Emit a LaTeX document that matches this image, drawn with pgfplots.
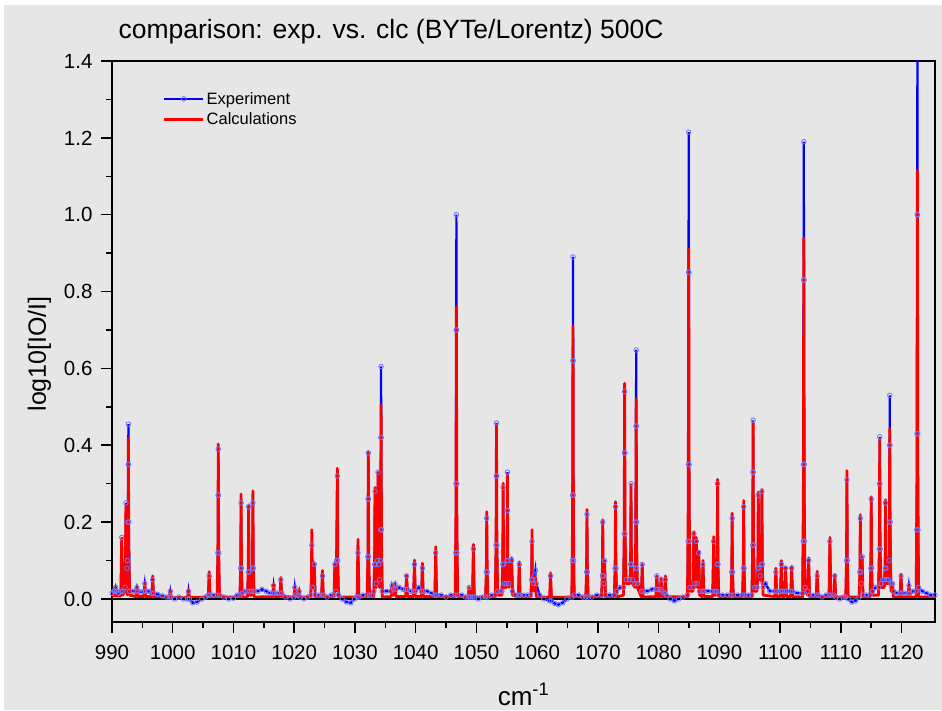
\documentclass[border=0pt]{standalone}
\usepackage{fontspec}
\setmainfont{Liberation Sans}
\usepackage{pgfplots}
\pgfplotsset{compat=1.18}
\definecolor{bggray}{RGB}{230,230,230}
\definecolor{expblue}{RGB}{0,0,255}
\definecolor{circblue}{RGB}{115,115,255}
\definecolor{clcred}{RGB}{250,0,0}
\begin{document}
\begin{tikzpicture}
\path[use as bounding box, fill=white] (0,0) rectangle (942pt,710pt);
\fill[bggray] (4pt,0) rectangle (942pt,705pt);
\begin{axis}[
  at={(112pt,88pt)}, anchor=south west,
  width=823pt, height=561pt, scale only axis,
  xmin=990, xmax=1125.5, ymin=-0.06, ymax=1.4,
  xtick={990,1000,...,1120}, ytick={0,0.2,...,1.4},
  minor x tick num=1, minor y tick num=1,
  tick pos=left, tick align=outside,
  major tick length=11pt, minor tick length=6pt,
  every tick/.style={black, line width=1.5pt},
  axis line style={black, line width=1.8pt},
  /pgf/number format/assume math mode=true,
  tick label style={font=\fontsize{20.5}{24}\selectfont, black},
  yticklabel style={/pgf/number format/.cd, fixed, fixed zerofill, precision=1},
  xticklabel style={/pgf/number format/.cd, set thousands separator={}},
  xticklabel shift=9pt, yticklabel shift=5pt,
  xlabel={cm\textsuperscript{-1}},
  ylabel={log10[IO/I]},
  xlabel style={at={(axis description cs:0.5,0)}, anchor=base, yshift=-83pt, font=\fontsize{26}{30}\selectfont},
  ylabel style={at={(axis description cs:0,0.478)}, anchor=base, yshift=66pt, font=\fontsize{25}{30}\selectfont},
  title={comparison: exp. vs. clc (BYTe/Lorentz) 500C},
  title style={at={(axis description cs:0,1)}, anchor=base west, xshift=3pt, yshift=16pt, font=\fontsize{26.5}{30}\selectfont},
  legend cell align=left,
  legend style={draw=none, fill=none, at={(axis description cs:0.058,0.952)}, anchor=north west, font=\fontsize{16.5}{19}\selectfont, row sep=3pt},
  legend image code/.code={\draw[mark repeat=2,mark phase=2,#1] plot coordinates {(0pt,0pt) (19.5pt,0pt) (39pt,0pt)};},
]
\addplot[expblue, line width=2.2pt, mark=o, mark size=2.3pt, mark options={solid, draw=circblue, line width=0.8pt}] coordinates {
(990,0.015)(990.3,0.02)(990.45,0.02)(990.6,0.03)(990.75,0.02)(991.1,0.015)
(991.45,0.02)(991.6,0.16)(991.75,0.02)(992.15,0.03)(992.3,0.25)(992.45,0.08)
(992.55,0.1)(992.63,0.2)(992.67,0.35)(992.7,0.455)(992.73,0.35)(992.77,0.2)(992.9,0.02)
(993.5,0.02)(993.95,0.02)(994.1,0.03)(994.25,0.02)(994.8,0.018)
(995.25,0.02)(995.4,0.04)(995.55,0.02)(996.0,0.02)
(996.55,0.015)(996.7,0.05)(996.85,0.015)(997.5,0.012)(998.3,0.008)(999.0,0.005)
(999.45,0.005)(999.6,0.02)(999.75,0.005)(1000.3,0.0)(1001.0,0.005)(1001.8,0.0)
(1002.45,0.0)(1002.6,0.02)(1002.75,0.0)(1003.3,-0.01)(1004.0,-0.008)(1004.8,0.0)(1005.4,0.005)
(1005.85,0.01)(1006.0,0.06)(1006.15,0.01)(1006.7,0.01)
(1007.3,0.01)(1007.43,0.12)(1007.47,0.27)(1007.5,0.39)(1007.53,0.27)(1007.57,0.12)(1007.7,0.01)
(1008.4,0.005)(1009.2,0.0)(1010.0,0.002)(1010.6,0.01)
(1011.05,0.01)(1011.18,0.08)(1011.25,0.25)(1011.32,0.08)(1011.45,0.015)(1011.9,0.02)
(1012.3,0.02)(1012.43,0.07)(1012.5,0.24)(1012.57,0.07)(1012.7,0.02)
(1013.0,0.02)(1013.13,0.08)(1013.2,0.25)(1013.27,0.08)(1013.4,0.02)
(1014.0,0.02)(1014.7,0.025)(1015.4,0.02)(1016.0,0.015)
(1016.45,0.015)(1016.6,0.035)(1016.75,0.015)(1017.2,0.015)
(1017.65,0.015)(1017.8,0.05)(1017.95,0.015)(1018.5,0.005)(1019.3,0.0)
(1019.95,0.005)(1020.1,0.03)(1020.25,0.01)(1020.65,0.01)(1020.8,0.02)(1020.95,0.005)
(1021.6,0.0)(1022.2,0.005)(1022.75,0.01)(1022.9,0.14)(1023.05,0.03)(1023.3,0.09)(1023.45,0.01)
(1024.0,0.01)(1024.5,0.01)(1024.65,0.06)(1024.8,0.01)(1025.4,0.005)(1026.1,0.01)
(1026.55,0.01)(1026.7,0.09)(1026.85,0.02)(1026.97,0.1)(1027.1,0.32)(1027.17,0.1)(1027.3,0.01)
(1027.9,0.0)(1028.6,-0.008)(1029.3,-0.01)(1029.9,0.0)
(1030.35,0.005)(1030.5,0.12)(1030.65,0.005)(1031.3,0.01)
(1032.0,0.01)(1032.13,0.11)(1032.17,0.26)(1032.2,0.38)(1032.23,0.26)(1032.27,0.11)(1032.4,0.01)(1032.8,0.01)
(1033.1,0.02)(1033.23,0.09)(1033.3,0.28)(1033.37,0.09)(1033.5,0.04)
(1033.73,0.1)(1033.8,0.33)(1033.9,0.09)(1034.05,0.05)
(1034.18,0.1)(1034.23,0.18)(1034.27,0.42)(1034.3,0.605)(1034.33,0.42)(1034.37,0.18)(1034.5,0.02)
(1035.2,0.02)(1035.95,0.02)(1036.1,0.035)(1036.3,0.025)(1036.6,0.038)(1036.75,0.025)
(1037.3,0.03)(1037.9,0.025)(1038.35,0.025)(1038.5,0.06)(1038.65,0.025)(1039.2,0.02)
(1039.65,0.02)(1039.8,0.09)(1039.95,0.02)(1040.5,0.03)
(1040.95,0.02)(1041.1,0.08)(1041.25,0.02)(1041.9,0.02)(1042.6,0.015)
(1043.15,0.01)(1043.3,0.12)(1043.45,0.01)(1044.2,0.01)(1045.0,0.005)(1045.8,0.01)
(1046.5,0.01)(1046.6,0.12)(1046.63,0.3)(1046.67,0.7)(1046.7,1.0)(1046.73,0.7)(1046.77,0.3)(1046.8,0.12)(1046.9,0.01)
(1047.6,0.01)(1048.2,0.005)(1048.65,0.005)(1048.8,0.03)(1048.95,0.005)
(1049.35,0.005)(1049.5,0.13)(1049.65,0.005)(1050.3,0.0)(1051.0,0.005)
(1051.5,0.005)(1051.63,0.07)(1051.7,0.21)(1051.77,0.07)(1051.9,0.005)(1052.5,0.01)
(1053.1,0.01)(1053.23,0.14)(1053.27,0.32)(1053.3,0.458)(1053.33,0.32)(1053.37,0.14)(1053.5,0.02)(1053.9,0.02)
(1054.2,0.02)(1054.33,0.09)(1054.4,0.29)(1054.47,0.09)(1054.6,0.04)
(1054.9,0.04)(1055.03,0.1)(1055.07,0.23)(1055.1,0.33)(1055.13,0.23)(1055.17,0.1)(1055.35,0.04)
(1055.8,0.1)(1055.95,0.02)(1056.4,0.01)(1056.9,0.01)(1057.05,0.09)(1057.2,0.01)(1057.8,0.01)(1058.4,0.01)
(1058.95,0.01)(1059.08,0.05)(1059.15,0.15)(1059.22,0.05)(1059.4,0.04)(1059.55,0.06)(1059.7,0.075)(1059.85,0.04)
(1060.4,0.01)(1061.1,0.0)(1062.05,-0.005)(1062.2,0.06)(1062.35,-0.005)
(1062.9,-0.012)(1063.5,-0.015)(1064.2,-0.01)(1064.9,0.0)
(1065.7,0.005)(1065.8,0.1)(1065.83,0.27)(1065.87,0.62)(1065.9,0.89)(1065.93,0.62)(1065.97,0.27)(1066.0,0.1)(1066.1,0.01)
(1066.8,0.01)(1067.5,0.005)(1068.0,0.005)(1068.13,0.07)(1068.2,0.22)(1068.27,0.07)(1068.4,0.005)
(1069.0,0.005)(1069.8,0.01)(1070.6,0.01)(1070.73,0.06)(1070.8,0.2)(1070.87,0.06)(1070.97,0.04)(1071.1,0.1)(1071.25,0.01)
(1071.9,0.01)(1072.7,0.01)(1072.83,0.08)(1072.9,0.24)(1072.97,0.08)(1073.1,0.02)(1073.6,0.03)
(1074.2,0.03)(1074.33,0.17)(1074.37,0.38)(1074.4,0.54)(1074.43,0.38)(1074.47,0.17)(1074.65,0.05)
(1075.25,0.05)(1075.38,0.09)(1075.45,0.3)(1075.52,0.09)(1075.7,0.05)
(1076.1,0.04)(1076.2,0.08)(1076.23,0.2)(1076.27,0.45)(1076.3,0.648)(1076.33,0.45)(1076.37,0.2)(1076.4,0.08)(1076.5,0.04)
(1077.15,0.02)(1077.3,0.09)(1077.45,0.02)(1078.1,0.02)(1078.9,0.025)
(1079.55,0.025)(1079.7,0.06)(1079.85,0.025)(1080.25,0.025)(1080.4,0.05)(1080.55,0.02)
(1080.95,0.015)(1081.1,0.05)(1081.25,0.01)(1081.9,0.0)(1082.6,-0.005)(1083.3,0.0)(1084.0,0.005)
(1084.75,0.01)(1084.85,0.15)(1084.88,0.35)(1084.92,0.85)(1084.95,1.215)(1084.98,0.85)(1085.02,0.35)(1085.05,0.15)(1085.15,0.03)
(1085.65,0.03)(1085.8,0.17)(1085.95,0.04)(1086.2,0.15)(1086.35,0.04)(1086.6,0.12)(1086.75,0.02)
(1087.15,0.02)(1087.3,0.09)(1087.45,0.02)(1088.1,0.02)
(1088.9,0.02)(1089.06,0.15)(1089.25,0.02)(1089.5,0.02)(1089.63,0.09)(1089.7,0.3)(1089.77,0.09)(1089.9,0.01)
(1090.5,0.01)(1091.3,0.01)(1091.9,0.01)(1092.03,0.07)(1092.1,0.21)(1092.17,0.07)(1092.3,0.01)(1093.0,0.01)
(1093.8,0.01)(1093.93,0.08)(1094.0,0.24)(1094.07,0.08)(1094.2,0.01)(1094.8,0.01)
(1095.35,0.01)(1095.48,0.14)(1095.52,0.33)(1095.55,0.465)(1095.58,0.33)(1095.62,0.14)(1095.8,0.03)
(1096.2,0.03)(1096.33,0.08)(1096.4,0.27)(1096.5,0.08)(1096.7,0.06)(1096.93,0.09)(1097.0,0.28)(1097.07,0.09)(1097.2,0.03)
(1097.6,0.04)(1098.3,0.02)(1099.15,0.02)(1099.3,0.07)(1099.45,0.02)
(1100.05,0.02)(1100.2,0.09)(1100.35,0.02)(1100.75,0.02)(1100.9,0.08)(1101.05,0.02)
(1101.75,0.02)(1101.9,0.08)(1102.05,0.02)(1102.8,0.015)
(1103.7,0.015)(1103.8,0.15)(1103.83,0.35)(1103.87,0.83)(1103.9,1.19)(1103.93,0.83)(1103.97,0.35)(1104.0,0.15)(1104.1,0.03)
(1104.55,0.02)(1104.7,0.1)(1104.85,0.01)(1105.4,0.01)(1105.95,0.01)(1106.1,0.06)(1106.25,0.01)
(1106.9,0.005)(1107.6,0.01)(1108.05,0.01)(1108.2,0.15)(1108.35,0.01)(1108.85,0.01)(1109.0,0.06)(1109.15,0.005)
(1109.8,0.0)(1110.4,0.005)(1110.8,0.005)(1110.93,0.1)(1111.0,0.31)(1111.07,0.1)(1111.2,0.0)
(1111.8,-0.008)(1112.4,-0.005)(1113.0,0.005)(1113.13,0.07)(1113.2,0.21)(1113.27,0.07)(1113.37,0.04)(1113.5,0.11)(1113.65,0.01)
(1114.2,0.01)(1114.8,0.01)(1114.93,0.08)(1115.0,0.26)(1115.07,0.08)(1115.2,0.02)(1115.7,0.03)
(1116.2,0.03)(1116.33,0.13)(1116.37,0.3)(1116.4,0.422)(1116.43,0.3)(1116.47,0.13)(1116.6,0.04)(1116.9,0.05)
(1117.15,0.05)(1117.28,0.08)(1117.35,0.25)(1117.42,0.08)(1117.55,0.05)
(1117.85,0.05)(1117.95,0.1)(1117.98,0.2)(1118.02,0.4)(1118.05,0.53)(1118.08,0.4)(1118.12,0.2)(1118.25,0.04)
(1118.5,0.04)(1118.65,0.02)(1119.2,0.015)(1119.75,0.015)(1119.9,0.06)(1120.05,0.015)(1120.5,0.015)
(1121.05,0.015)(1121.2,0.035)(1121.35,0.015)(1121.9,0.02)
(1122.4,0.02)(1122.5,0.18)(1122.53,0.43)(1122.57,1.0)(1122.6,1.45)(1122.63,1.0)(1122.67,0.43)(1122.7,0.18)(1122.8,0.03)
(1123.4,0.02)(1124.1,0.015)(1124.8,0.01)(1125.5,0.01)
};
\addlegendentry{Experiment}
\addplot[clcred, line width=2.8pt, line join=round] coordinates {
(990,0.01)(990.45,0.008)(990.6,0.028)(990.75,0.008)
(991.45,0.008)(991.6,0.158)(991.75,0.01)(992.15,0.02)(992.3,0.245)(992.45,0.06)
(992.5,0.01)(992.63,0.125)(992.7,0.418)(992.77,0.125)(992.9,0.01)
(993.95,0.006)(994.1,0.03)(994.25,0.006)(995.25,0.006)(995.4,0.04)(995.55,0.006)
(996.55,0.006)(996.7,0.06)(996.85,0.006)(999.45,0.004)(999.6,0.02)(999.75,0.004)
(1002.45,0.004)(1002.6,0.025)(1002.75,0.004)(1005.85,0.005)(1006.0,0.071)(1006.15,0.005)
(1007.3,0.005)(1007.43,0.12)(1007.5,0.403)(1007.57,0.12)(1007.7,0.005)
(1011.05,0.005)(1011.18,0.08)(1011.25,0.273)(1011.32,0.08)(1011.45,0.005)
(1012.3,0.005)(1012.43,0.07)(1012.5,0.245)(1012.57,0.07)(1012.7,0.01)
(1013.0,0.01)(1013.13,0.08)(1013.2,0.281)(1013.27,0.08)(1013.4,0.005)
(1016.45,0.006)(1016.6,0.038)(1016.75,0.006)(1017.65,0.006)(1017.8,0.056)(1017.95,0.006)
(1019.95,0.005)(1020.1,0.03)(1020.25,0.005)(1020.65,0.005)(1020.8,0.025)(1020.95,0.005)
(1022.7,0.005)(1022.83,0.05)(1022.9,0.18)(1022.97,0.06)(1023.1,0.03)(1023.3,0.094)(1023.45,0.005)
(1024.5,0.005)(1024.65,0.074)(1024.8,0.005)
(1026.55,0.005)(1026.7,0.094)(1026.85,0.02)(1026.97,0.1)(1027.1,0.34)(1027.17,0.1)(1027.3,0.005)
(1030.35,0.005)(1030.5,0.155)(1030.65,0.005)
(1032.0,0.005)(1032.13,0.11)(1032.2,0.383)(1032.27,0.11)(1032.4,0.005)
(1033.1,0.005)(1033.23,0.09)(1033.3,0.29)(1033.37,0.09)(1033.5,0.03)
(1033.73,0.1)(1033.8,0.33)(1033.9,0.08)(1034.05,0.03)
(1034.23,0.15)(1034.3,0.505)(1034.37,0.15)(1034.5,0.005)
(1035.95,0.006)(1036.1,0.035)(1036.3,0.01)(1036.6,0.038)(1036.75,0.006)
(1038.35,0.006)(1038.5,0.062)(1038.65,0.006)(1039.65,0.006)(1039.8,0.101)(1039.95,0.006)
(1040.95,0.006)(1041.1,0.093)(1041.25,0.006)(1043.15,0.006)(1043.3,0.136)(1043.45,0.006)
(1046.5,0.006)(1046.63,0.23)(1046.7,0.76)(1046.77,0.23)(1046.9,0.006)
(1048.65,0.005)(1048.8,0.03)(1048.95,0.005)(1049.35,0.005)(1049.5,0.142)(1049.65,0.005)
(1051.5,0.005)(1051.63,0.07)(1051.7,0.227)(1051.77,0.07)(1051.9,0.005)
(1053.1,0.005)(1053.23,0.14)(1053.3,0.453)(1053.37,0.14)(1053.5,0.01)
(1054.2,0.01)(1054.33,0.09)(1054.4,0.301)(1054.47,0.09)(1054.6,0.03)
(1054.9,0.03)(1055.03,0.1)(1055.1,0.323)(1055.17,0.1)(1055.35,0.03)(1055.8,0.107)(1055.95,0.01)
(1056.9,0.006)(1057.05,0.097)(1057.2,0.006)
(1058.95,0.006)(1059.08,0.05)(1059.15,0.18)(1059.22,0.05)(1059.4,0.02)(1059.7,0.06)(1059.85,0.006)
(1062.05,0.004)(1062.2,0.068)(1062.35,0.004)
(1065.7,0.005)(1065.83,0.21)(1065.9,0.71)(1065.97,0.21)(1066.1,0.005)
(1068.0,0.005)(1068.13,0.07)(1068.2,0.233)(1068.27,0.07)(1068.4,0.005)
(1070.6,0.005)(1070.73,0.06)(1070.8,0.206)(1070.87,0.06)(1070.97,0.04)(1071.1,0.1)(1071.25,0.005)
(1072.7,0.005)(1072.83,0.08)(1072.9,0.253)(1072.97,0.08)(1073.1,0.005)
(1074.2,0.01)(1074.33,0.17)(1074.4,0.561)(1074.47,0.17)(1074.65,0.04)
(1075.25,0.04)(1075.38,0.09)(1075.45,0.297)(1075.52,0.09)(1075.7,0.04)
(1076.1,0.03)(1076.23,0.16)(1076.3,0.52)(1076.37,0.16)(1076.5,0.03)
(1077.15,0.005)(1077.3,0.09)(1077.45,0.005)
(1079.55,0.006)(1079.7,0.06)(1079.85,0.006)(1080.25,0.006)(1080.4,0.055)(1080.55,0.006)
(1080.95,0.006)(1081.1,0.06)(1081.25,0.006)
(1084.75,0.005)(1084.88,0.27)(1084.95,0.91)(1085.02,0.27)(1085.15,0.02)
(1085.65,0.02)(1085.8,0.175)(1085.95,0.03)(1086.2,0.16)(1086.35,0.03)(1086.6,0.125)(1086.75,0.01)
(1087.15,0.006)(1087.3,0.1)(1087.45,0.006)
(1088.9,0.006)(1089.06,0.162)(1089.25,0.01)(1089.5,0.01)(1089.63,0.09)(1089.7,0.311)(1089.77,0.09)(1089.9,0.006)
(1091.9,0.005)(1092.03,0.07)(1092.1,0.223)(1092.17,0.07)(1092.3,0.005)
(1093.8,0.005)(1093.93,0.08)(1094.0,0.256)(1094.07,0.08)(1094.2,0.005)
(1095.35,0.005)(1095.48,0.14)(1095.55,0.461)(1095.62,0.14)(1095.8,0.02)
(1096.2,0.02)(1096.33,0.08)(1096.4,0.278)(1096.5,0.07)(1096.7,0.05)(1096.93,0.09)(1097.0,0.285)(1097.07,0.09)(1097.2,0.01)
(1099.15,0.006)(1099.3,0.08)(1099.45,0.006)(1100.05,0.006)(1100.2,0.1)(1100.35,0.006)
(1100.75,0.006)(1100.9,0.083)(1101.05,0.006)(1101.75,0.006)(1101.9,0.085)(1102.05,0.006)
(1103.7,0.005)(1103.83,0.28)(1103.9,0.94)(1103.97,0.28)(1104.1,0.02)
(1104.55,0.01)(1104.7,0.107)(1104.85,0.006)(1105.95,0.005)(1106.1,0.072)(1106.25,0.005)
(1108.05,0.005)(1108.2,0.16)(1108.35,0.005)(1108.85,0.005)(1109.0,0.063)(1109.15,0.005)
(1110.8,0.005)(1110.93,0.1)(1111.0,0.334)(1111.07,0.1)(1111.2,0.005)
(1113.0,0.005)(1113.13,0.07)(1113.2,0.219)(1113.27,0.07)(1113.37,0.04)(1113.5,0.11)(1113.65,0.005)
(1114.8,0.005)(1114.93,0.08)(1115.0,0.266)(1115.07,0.08)(1115.2,0.01)
(1116.2,0.01)(1116.33,0.13)(1116.4,0.414)(1116.47,0.13)(1116.6,0.03)
(1117.15,0.03)(1117.28,0.08)(1117.35,0.258)(1117.42,0.08)(1117.55,0.04)
(1117.85,0.04)(1117.98,0.13)(1118.05,0.444)(1118.12,0.13)(1118.25,0.02)(1118.5,0.04)(1118.65,0.005)
(1119.75,0.005)(1119.9,0.065)(1120.05,0.005)(1121.05,0.005)(1121.2,0.035)(1121.35,0.005)
(1122.4,0.005)(1122.53,0.33)(1122.6,1.115)(1122.67,0.33)(1122.8,0.005)
(1125.5,0.005)
};
\addlegendentry{Calculations}
\addplot[black, line width=1.8pt, forget plot] coordinates {(985,0) (1130,0)};
\end{axis}
\end{tikzpicture}
\end{document}
